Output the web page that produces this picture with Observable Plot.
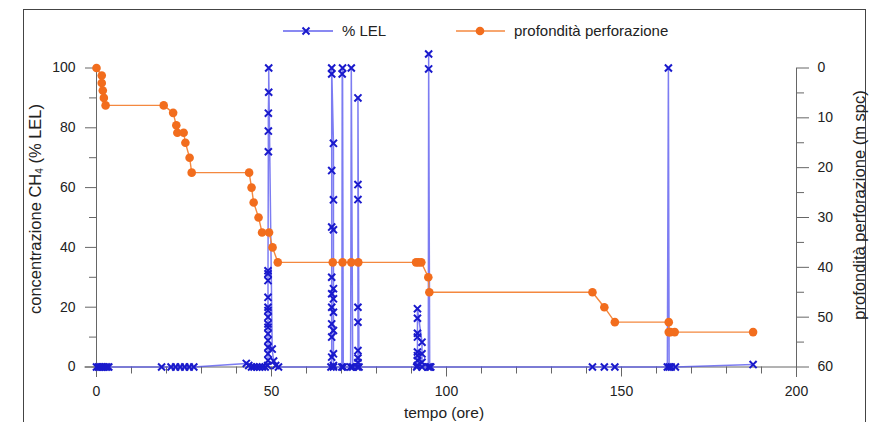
<!DOCTYPE html>
<html>
<head>
<meta charset="utf-8">
<script src="https://cdn.jsdelivr.net/npm/d3@7"></script>
<script src="https://cdn.jsdelivr.net/npm/@observablehq/plot@0.6"></script>
<style>
  body { margin: 0; background: #fff; font-family: "Liberation Sans", Arial, sans-serif; }
  #wrap { position: relative; width: 872px; height: 422px; overflow: hidden; background: #fff; }
  #frame { position: absolute; left: 23px; top: 9px; width: 843px; height: 440px; border: 1px solid #444; box-sizing: border-box; }
  #chart { position: absolute; left: 0; top: 0; }
  .lg { position: absolute; font-size: 15px; color: #222; white-space: nowrap; }
  .title { position: absolute; font-size: 16.5px; color: #222; white-space: nowrap; transform: translate(-50%, -50%) rotate(-90deg); }
  .xtitle { position: absolute; font-size: 15.5px; color: #222; white-space: nowrap; transform: translate(-50%, -50%); }
  sub { font-size: 10px; vertical-align: -2px; }
</style>
</head>
<body>
<div id="wrap">
  <div id="frame"></div>
  <div id="chart"></div>
  <svg class="lg" style="left:283px;top:24px" width="52" height="14">
    <line x1="0" y1="7" x2="50" y2="7" stroke="#6262ee" stroke-width="1.5"/>
    <path d="M19.5,3.5L26.5,10.5M26.5,3.5L19.5,10.5" stroke="#1a1acc" stroke-width="2"/>
  </svg>
  <div class="lg" style="left:342px;top:22px">% LEL</div>
  <svg class="lg" style="left:456px;top:24px" width="52" height="14">
    <line x1="0" y1="7" x2="49" y2="7" stroke="#f4883f" stroke-width="1.5"/>
    <circle cx="24" cy="7" r="4.3" fill="#f26d1d"/>
  </svg>
  <div class="lg" style="left:514px;top:22px">profondità perforazione</div>
  <div class="title" style="left:35px;top:209px">concentrazione CH<sub>4</sub> (% LEL)</div>
  <div class="title" style="left:859px;top:205px">profondità perforazione (m spc)</div>
  <div class="xtitle" style="left:444px;top:413px">tempo (ore)</div>
</div>
<script>
// % LEL series (left axis)
const lelTime = [
  0, 0.5, 1, 1.5, 2, 2.5, 3, 3.5,
  18.6, 21.3, 22.6, 23.9, 25.2, 26.5, 27.8,
  42.8, 43.5, 44.3, 45, 45.8, 46.6, 47.4, 48.2,
  48.9, 49, 49, 49, 49, 49, 49, 49, 49, 49, 49, 49, 49, 49, 49, 49.1, 49.1, 49.1, 49.2, 49.2,
  50.2, 50.6, 51.2, 52,
  67.0, 67.2, 67.2, 67.2, 67.2, 67.2, 67.2, 67.2, 67.2, 67.2, 67.2,
  67.7, 67.7, 67.7, 67.7, 67.7, 67.7, 67.7, 67.7, 67.7, 67.7,
  70.1, 70.2, 70.3, 70.5,
  72.6, 72.8, 73.2,
  74.5, 74.7, 74.7, 74.7, 74.7, 74.7, 74.7, 74.7, 74.7, 75.0,
  91.5, 91.7, 91.7, 91.7, 91.7, 91.7, 91.7, 91.7, 91.7,
  93.0, 93.0, 93.0, 93.0,
  94.8, 94.9, 94.9, 95.2, 95.5,
  141.7, 145.1, 148.1,
  163.1, 163.4, 163.6, 164.2, 165.4,
  187.6
];
const lelValue = [
  0, 0, 0, 0, 0, 0, 0, 0,
  0, 0, 0, 0, 0, 0, 0,
  1.2, 0.5, 0, 0, 0, 0, 0, 0,
  0.5, 2.2, 4.4, 6.6, 8.9, 11.1, 13.3, 14.4, 16.7, 18.9, 20, 23.3, 28.9, 31.2, 32.2, 72, 78.9, 84.9, 91.9, 100,
  6, 2, 0.5, 0,
  0, 3.3, 10, 14.4, 20, 24.5, 30, 46.8, 65.7, 98, 100,
  74.8, 55.9, 45.9, 26.2, 22.8, 18.3, 12.2, 4.4, 0.5, 0,
  0, 98, 100, 0,
  0, 100, 0,
  0, 1.5, 3, 5.5, 15, 20, 56, 61, 90, 0,
  0, 0.5, 2.2, 3.8, 5, 10, 11.3, 16.3, 19.5,
  8.3, 4.4, 1.6, 0,
  0, 99.7, 104.7, 0, 0,
  0, 0, 0,
  0, 100, 0, 0, 0,
  0.8
];
// drilling depth series (right axis, m spc)
const depthTime = [
  0, 1.5, 1.5, 1.8, 2.1, 2.6, 19.2,
  21.9, 22.8, 23.1, 24.9, 25.4, 26.6, 27.2, 43.6,
  44.3, 44.9, 46.3, 47.3, 49.3, 50.3, 51.8,
  67.5, 70.3, 72.8, 74.8, 91.3, 92.0, 92.8, 94.8, 95.1,
  141.7, 145.1, 148.1, 163.5, 163.5, 164.0, 165.2, 187.6
];
const depthValue = [
  0, 1.5, 3, 4.5, 6, 7.5, 7.5,
  9, 11.5, 13, 13, 15, 18, 21, 21,
  24, 27, 30, 33, 33, 36, 39,
  39, 39, 39, 39, 39, 39, 39, 42, 45,
  45, 48, 51, 51, 53, 53, 53, 53
];
const xMajor = [0, 50, 100, 150, 200];
const xMinor = [10, 20, 30, 40, 60, 70, 80, 90, 110, 120, 130, 140, 160, 170, 180, 190];
const yMajor = [0, 20, 40, 60, 80, 100];
const yMinor = [10, 30, 50, 70, 90];
const dMajor = [0, 10, 20, 30, 40, 50, 60];
const dMinor = [5, 15, 25, 35, 45, 55];

const depthMax = 60;
const toLeft = d => 100 - d * 100 / depthMax;
const lel = lelTime.map((t, i) => ({t, v: lelValue[i]}));
const dep = depthTime.map((t, i) => ({t, v: toLeft(depthValue[i])}));

const axisColor = "#666";
const chart = Plot.plot({
  width: 872,
  height: 422,
  marginLeft: 96,
  marginRight: 76,
  marginTop: 67.5,
  marginBottom: 55.5,
  x: {domain: [0, 200]},
  y: {domain: [0, 100]},
  style: {fontFamily: "Liberation Sans, Arial, sans-serif", fontSize: "14px", color: "#222", background: "transparent"},
  marks: [
    Plot.ruleX([0], {y1: -3.5, y2: 100, stroke: axisColor}),
    Plot.ruleX([200], {y1: -3.5, y2: 100, stroke: axisColor}),
    Plot.ruleY([0], {x1: -3.3, x2: 200, stroke: axisColor}),
    Plot.axisX({ticks: xMajor, tickSize: 10, tickPadding: 9, label: null, stroke: axisColor}),
    Plot.axisX({ticks: xMinor, tickSize: 7, tickFormat: () => "", label: null, stroke: axisColor}),
    Plot.axisY({ticks: yMajor, tickSize: 11, tickPadding: 10, label: null, stroke: axisColor}),
    Plot.axisY({ticks: yMinor, tickSize: 7, tickFormat: () => "", label: null, stroke: axisColor}),
    Plot.axisY({anchor: "right", ticks: dMajor.map(toLeft), tickFormat: v => String(Math.round((100 - v) * depthMax / 100)), tickSize: 12, tickPadding: 9, label: null, stroke: axisColor}),
    Plot.axisY({anchor: "right", ticks: dMinor.map(toLeft), tickFormat: () => "", tickSize: 7, label: null, stroke: axisColor}),
    Plot.line(lel, {x: "t", y: "v", stroke: "#5050ee", strokeOpacity: 0.75, strokeWidth: 1.5}),
    Plot.dot(lel, {x: "t", y: "v", symbol: "times", r: 3.3, stroke: "#1a1acc", strokeWidth: 2}),
    Plot.line(dep, {x: "t", y: "v", stroke: "#f4883f", strokeWidth: 1.4}),
    Plot.dot(dep, {x: "t", y: "v", r: 4.3, fill: "#f26d1d", stroke: "none"})
  ]
});
document.getElementById("chart").appendChild(chart);
</script>
</body>
</html>
